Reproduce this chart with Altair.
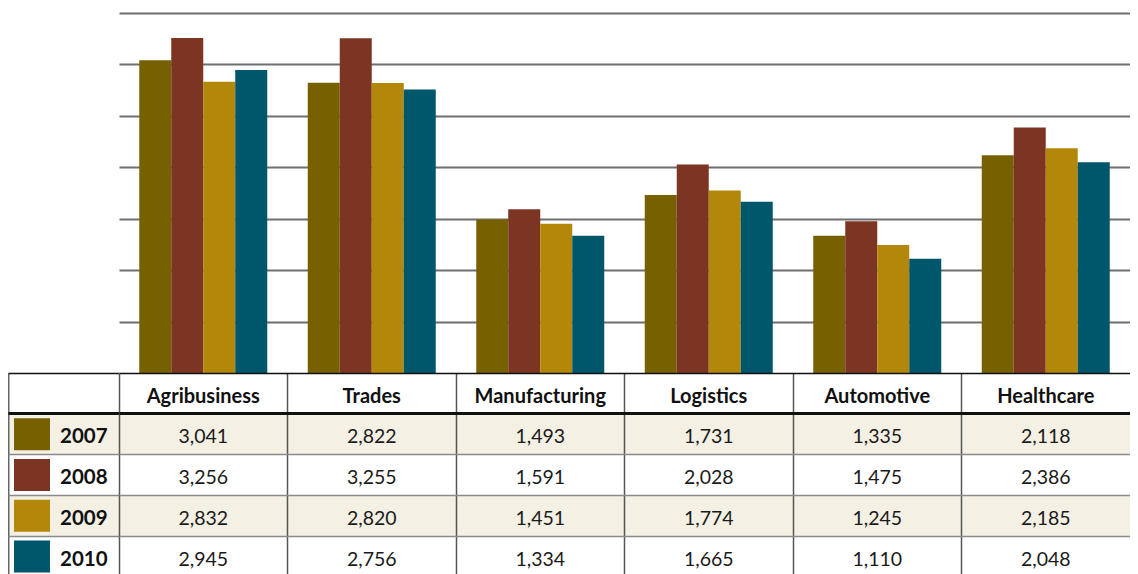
import altair as alt
import pandas as pd

categories = ["Agribusiness", "Trades", "Manufacturing", "Logistics", "Automotive", "Healthcare"]
years = ["2007", "2008", "2009", "2010"]
colors = ["#766000", "#7C3423", "#B3870A", "#00566A"]
v2007 = [3041, 2822, 1493, 1731, 1335, 2118]
v2008 = [3256, 3255, 1591, 2028, 1475, 2386]
v2009 = [2832, 2820, 1451, 1774, 1245, 2185]
v2010 = [2945, 2756, 1334, 1665, 1110, 2048]
grid_values = [500, 1000, 1500, 2000, 2500, 3000, 3500]
rows = ["header"] + years
cream = "#F4F0E4"
FONT = "Lato"

series = {"2007": v2007, "2008": v2008, "2009": v2009, "2010": v2010}
long = pd.DataFrame(
    [{"category": c, "year": y, "value": series[y][i]} for y in years for i, c in enumerate(categories)]
)

COLW = 1011
LEFTW = 111
BARH = 360
TABH = 204
PIN = 1 - 128 / (COLW / 6)

# --- bar chart ---
bars = alt.Chart(long).mark_bar().encode(
    x=alt.X("category:N", sort=categories, axis=None,
            scale=alt.Scale(domain=categories, paddingInner=PIN, paddingOuter=PIN / 2)),
    xOffset=alt.XOffset("year:N", sort=years, scale=alt.Scale(domain=years, paddingInner=0, paddingOuter=0)),
    y=alt.Y("value:Q", scale=alt.Scale(domain=[0, 3500], nice=False),
            axis=alt.Axis(values=grid_values, labels=False, ticks=False, domain=False, title=None,
                          grid=True, gridColor="#6f6f6f", gridWidth=2)),
    color=alt.Color("year:N", scale=alt.Scale(domain=years, range=colors), legend=None),
).properties(width=COLW, height=BARH)

spacer = alt.Chart(pd.DataFrame({"a": [0]})).mark_rect(opacity=0).properties(width=LEFTW, height=BARH)

# --- table data ---
cells = []
for r in rows:
    for i, c in enumerate(categories):
        if r == "header":
            txt = c
        else:
            txt = f"{series[r][i]:,}"
        cells.append({"row": r, "category": c, "text": txt,
                      "fill": cream if r in ("2007", "2009") else "#ffffff"})
cells = pd.DataFrame(cells)

yrow = alt.Y("row:N", sort=rows,
             scale=alt.Scale(domain=rows, paddingInner=0, paddingOuter=0),
             axis=alt.Axis(labels=False, ticks=False, domain=False, title=None, grid=True,
                           bandPosition=0, zindex=1,
                           gridColor={"condition": {"test": "datum.value == 'header' || datum.value == '2007'", "value": "#111111"}, "value": "#8a8a8a"},
                           gridWidth={"condition": {"test": "datum.value == '2007'", "value": 3}, "value": 1.5}))

base_t = alt.Chart(cells)
t_bg = base_t.mark_rect().encode(
    x=alt.X("category:N", sort=categories,
            scale=alt.Scale(domain=categories, paddingInner=0, paddingOuter=0),
            axis=alt.Axis(labels=False, ticks=False, domain=False, title=None, grid=True,
                          bandPosition=0, zindex=1, gridColor="#555555", gridWidth=1.5)),
    y=yrow,
    fill=alt.Fill("fill:N", scale=None),
)
t_head = base_t.transform_filter("datum.row == 'header'").mark_text(
    font=FONT, fontSize=20, fontWeight="bold", color="#111111", baseline="middle", dy=4
).encode(x=alt.X("category:N", sort=categories), y=alt.Y("row:N", sort=rows), text="text:N")
t_vals = base_t.transform_filter("datum.row != 'header'").mark_text(
    font=FONT, fontSize=19.5, color="#1a1a1a", baseline="middle", dy=3
).encode(x=alt.X("category:N", sort=categories), y=alt.Y("row:N", sort=rows), text="text:N")
table = alt.layer(t_bg, t_head, t_vals).properties(width=COLW, height=TABH)

# --- left legend column ---
left_df = pd.DataFrame([{"row": r, "col": "label",
                         "fill": cream if r in ("2007", "2009") else "#ffffff"} for r in rows])
base_l = alt.Chart(left_df)
l_bg = base_l.mark_rect().encode(
    x=alt.X("col:N", scale=alt.Scale(domain=["label"], paddingInner=0, paddingOuter=0),
            axis=alt.Axis(labels=False, ticks=False, domain=False, title=None, grid=True,
                          bandPosition=0, zindex=1, gridColor="#666666", gridWidth=2)),
    y=yrow,
    fill=alt.Fill("fill:N", scale=None),
)
l_sw = base_l.transform_filter("datum.row != 'header'").mark_point(
    shape="M-1.125,-1H1.125V1H-1.125Z", size=1024, filled=True, opacity=1
).encode(
    x=alt.value(24),
    y=alt.Y("row:N", sort=rows),
    color=alt.Color("row:N", scale=alt.Scale(domain=years, range=colors), legend=None),
)
l_txt = base_l.transform_filter("datum.row != 'header'").mark_text(
    font=FONT, fontSize=20.5, fontWeight="bold", color="#111111", align="left", baseline="middle", dy=3
).encode(x=alt.value(52), y=alt.Y("row:N", sort=rows), text="row:N")
leftcol = alt.layer(l_bg, l_sw, l_txt).properties(width=LEFTW, height=TABH)

chart = alt.concat(spacer, bars, leftcol, table, columns=2, spacing=0, bounds="flush").properties(
    padding={"left": 0, "top": 5, "right": 0, "bottom": 0}
).configure(font=FONT, view=alt.ViewConfig(stroke=None))

chart.save("out.html", embed_options={"renderer": "svg", "actions": False})
